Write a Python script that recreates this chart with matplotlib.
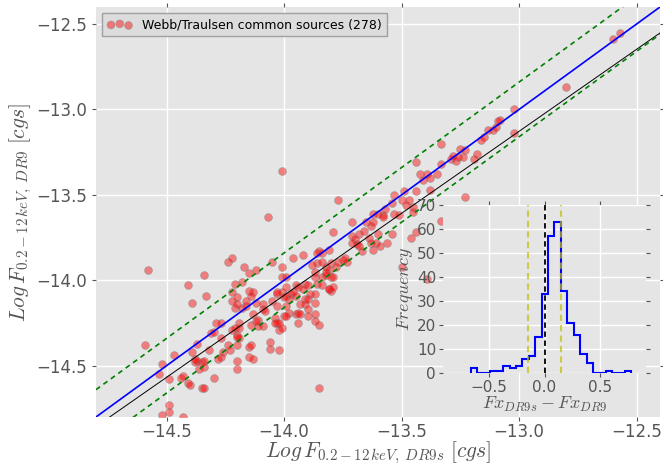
import numpy as np
import matplotlib
matplotlib.use('Agg')
import matplotlib.pyplot as plt

plt.rcParams['mathtext.fontset'] = 'cm'
plt.rcParams['font.family'] = 'DejaVu Sans'

# Log flux pairs (DR9s on x, DR9 on y)
fx_dr9s = [
    -14.59, -14.58, -14.52, -14.53, -14.49, -14.49, -14.49, -14.52, -14.43, -14.47,
    -14.44, -14.43, -14.41, -14.40, -14.39, -14.41, -14.39, -14.37, -14.38, -14.38,
    -14.37, -14.35, -14.34, -14.34, -14.36, -14.35, -14.34, -14.34, -14.33, -14.32,
    -14.31, -14.30, -14.30, -14.29, -14.27, -14.27, -14.26, -14.27, -14.28, -14.24,
    -14.22, -14.24, -14.23, -14.22, -14.22, -14.21, -14.20, -14.18, -14.16, -14.12,
    -14.13, -14.11, -14.14, -14.19, -14.21, -14.19, -14.20, -14.20, -14.19, -14.20,
    -14.15, -14.14, -14.20, -14.15, -14.13, -14.20, -14.21, -14.18, -14.17, -14.12,
    -14.15, -14.22, -14.20, -14.15, -14.13, -14.14, -14.16,
    -14.09, -14.09, -14.08, -14.05, -14.03, -14.01, -13.99, -13.98, -13.97, -13.95,
    -13.98, -14.00, -13.99, -14.04, -14.03, -14.04, -14.02, -14.02, -14.11, -14.09,
    -14.12, -13.93, -13.91, -13.91, -13.90, -13.87, -13.90, -13.95, -13.94, -13.93,
    -13.90, -13.87, -13.94, -13.85, -14.06, -14.06, -14.02, -13.85, -13.81, -13.80,
    -13.77, -14.07, -14.01, -13.62, -13.65, -13.63, -13.62, -13.71, -13.79, -13.68,
    -13.66, -13.71, -13.70, -13.71, -13.69, -13.64, -13.63, -13.61, -13.62, -13.67,
    -13.68, -13.85, -13.86, -13.84, -13.81, -13.92, -13.96, -14.05, -14.01, -13.86,
    -13.88, -13.84, -13.80, -13.78, -13.77, -13.75, -13.74, -13.73, -13.82, -13.81,
    -13.82, -13.87, -13.87, -13.84, -13.82, -13.80, -13.79, -14.01, -13.99, -13.99,
    -13.91, -13.90, -13.95, -13.94, -13.86, -13.84, -13.81, -13.79, -14.03, -13.92,
    -13.96, -13.89, -13.87, -14.00, -14.03, -13.99, -13.87, -14.01,
    -13.50, -13.47, -13.48, -13.45, -13.53, -13.51, -13.57, -13.58, -13.58, -13.60,
    -13.54, -13.56, -13.59, -13.46, -13.44, -13.50, -13.33, -13.39, -13.33, -13.25,
    -13.23, -13.29, -13.27, -13.26, -13.24, -13.28, -13.44, -13.33, -13.42, -13.39,
    -13.41, -13.38, -13.35, -13.38, -13.44, -13.49, -13.53, -13.54, -13.23, -12.57,
    -12.60, -12.80, -13.02, -13.02, -13.08, -13.09, -13.10, -13.11, -13.13, -13.15,
    -13.16, -13.18, -13.19, -13.45, -13.60,
]
fx_dr9 = [
    -14.38, -13.94, -14.49, -14.55, -14.58, -14.73, -14.77, -14.79, -14.80, -14.44,
    -14.57, -14.56, -14.60, -14.61, -14.13, -14.03, -14.42, -14.37, -14.48, -14.46,
    -14.47, -14.48, -14.47, -14.51, -14.52, -14.63, -14.63, -13.97, -14.09, -14.41,
    -14.31, -14.30, -14.57, -14.25, -14.25, -14.34, -14.42, -14.45, -14.46, -13.89,
    -13.87, -14.38, -14.41, -14.29, -14.12, -14.16, -14.14, -14.16, -14.15, -14.13,
    -14.20, -14.23, -14.26, -14.25, -14.28, -14.28, -14.32, -14.33, -14.34, -14.38,
    -14.39, -14.38, -14.47, -14.45, -14.46, -14.52, -14.02, -14.01, -13.92, -13.94,
    -13.96, -14.07, -14.10, -14.06, -14.07, -14.09, -14.12,
    -14.14, -14.17, -14.18, -14.12, -14.08, -14.07, -14.09, -14.11, -14.08, -14.09,
    -14.19, -14.21, -14.21, -14.22, -14.25, -14.25, -14.25, -14.29, -14.27, -14.27,
    -14.24, -14.14, -14.11, -14.14, -14.11, -14.13, -14.17, -14.20, -14.19, -14.20,
    -14.21, -14.20, -14.25, -14.26, -14.36, -14.40, -14.41, -14.63, -14.05, -14.06,
    -13.53, -13.63, -13.36, -13.61, -13.66, -13.68, -13.66, -13.66, -13.72, -13.73,
    -13.71, -13.74, -13.76, -13.78, -13.79, -13.75, -13.78, -13.78, -13.82, -13.83,
    -13.80, -13.83, -13.84, -13.84, -13.82, -13.85, -13.87, -13.89, -13.92, -13.90,
    -13.91, -13.89, -13.90, -13.92, -13.89, -13.88, -13.87, -13.89, -13.92, -13.94,
    -13.95, -13.95, -13.98, -13.98, -13.97, -13.98, -13.98, -13.98, -13.98, -14.04,
    -14.02, -14.03, -14.03, -14.04, -14.02, -14.03, -14.05, -14.04, -14.07, -14.05,
    -14.07, -14.08, -14.08, -14.10, -14.15, -14.15, -14.24, -14.28,
    -13.53, -13.53, -13.56, -13.57, -13.61, -13.62, -13.58, -13.62, -13.63, -13.73,
    -13.73, -13.78, -13.80, -13.75, -13.72, -13.92, -13.65, -13.99, -13.20, -13.23,
    -13.24, -13.29, -13.30, -13.28, -13.28, -13.27, -13.31, -13.32, -13.38, -13.38,
    -13.41, -13.40, -13.38, -13.47, -13.48, -13.48, -13.50, -13.55, -13.51, -12.55,
    -12.59, -12.87, -13.00, -13.14, -13.06, -13.07, -13.10, -13.12, -13.12, -13.16,
    -13.18, -13.26, -13.29, -13.60, -13.61,
]

# linear fit and +/- band
fit_slope = 0.96
fit_intercept = -0.648
band = 0.16

# histogram of Fx_DR9s - Fx_DR9 (25 bins)
diff_lo, diff_hi = -0.659, 0.779
hist_counts = [2, 0, 0, 1, 1, 3, 2, 3, 6, 7, 15, 33, 57, 63, 34, 21, 16, 8, 4,
               0, 0, 1, 0, 0, 1]
diff_mean = 0.0
diff_sigma = 0.144

grey = '#555555'
bg = '#E5E5E5'

fig = plt.figure(figsize=(6.63, 4.69), dpi=100)
ax = fig.add_axes([0.1448, 0.1109, 0.8507, 0.8742])
ax.set_facecolor(bg)
for s in ax.spines.values():
    s.set_visible(False)
ax.grid(True, color='white', lw=1.0)
ax.set_axisbelow(True)

ax.scatter(fx_dr9s, fx_dr9, s=32, facecolor='red', alpha=0.45, edgecolor='grey',
           linewidth=0.6, label='Webb/Traulsen common sources (278)', zorder=3)

xx = np.array([-14.8, -12.4])
ax.plot(xx, xx, color='blue', lw=1.2, zorder=4)
ax.plot(xx, fit_slope * xx + fit_intercept, color='black', lw=0.7, zorder=4)
ax.plot(xx, xx + band, 'g--', lw=1.2, dashes=(3, 2.5), zorder=4)
ax.plot(xx, xx - band, 'g--', lw=1.2, dashes=(3, 2.5), zorder=4)

ax.set_xlim(-14.8, -12.4)
ax.set_ylim(-14.8, -12.4)
ax.set_xticks([-14.5, -14.0, -13.5, -13.0, -12.5])
ax.set_yticks([-14.5, -14.0, -13.5, -13.0, -12.5])
ax.tick_params(direction='out', length=3, color=grey, labelcolor=grey,
               labelsize=12, top=True, right=True)
ax.tick_params(axis='x', pad=1)
ax.set_xlabel(r'$Log\,F_{0.2-12\,keV,\;DR9s}\;[cgs]$', fontsize=15.5, color=grey)
ax.xaxis.set_label_coords(0.5, -0.056)
ax.set_ylabel(r'$Log\,F_{0.2-12\,keV,\;DR9}\;[cgs]$', fontsize=15.5, color=grey)
ax.yaxis.set_label_coords(-0.11, 0.5)

leg = ax.legend(loc='upper left', scatterpoints=3, fontsize=9, fancybox=False,
                framealpha=1.0)
leg.get_frame().set_facecolor('#DCDCDC')
leg.get_frame().set_edgecolor('#A0A0A0')

# inset histogram
ins = fig.add_axes([0.6682, 0.2047, 0.3062, 0.3582])
ins.set_facecolor(bg)
for s in ins.spines.values():
    s.set_visible(False)
ins.grid(True, color='white', lw=1.0)
ins.set_axisbelow(True)
edges = np.linspace(diff_lo, diff_hi, len(hist_counts) + 1)
ins.hist(edges[:-1], bins=edges, weights=hist_counts, histtype='step',
         color='blue', lw=1.5)
ins.axvline(diff_mean, color='black', ls='--', lw=1.3, dashes=(3, 2))
ins.axvline(diff_mean - diff_sigma, color='y', alpha=0.7, lw=1.5, dashes=(3, 2))
ins.axvline(diff_mean + diff_sigma, color='y', alpha=0.7, lw=1.5, dashes=(3, 2))
ins.set_xlim(-0.91, 0.91)
ins.set_ylim(0, 70)
ins.set_xticks([-0.5, 0.0, 0.5])
ins.set_yticks(range(0, 71, 10))
ins.tick_params(direction='out', length=3, color=grey, labelcolor=grey,
                labelsize=11, top=True, right=True, pad=2)
ins.set_xlabel(r'$Fx_{DR9s}-Fx_{DR9}$', fontsize=13, color=grey, labelpad=0)
ins.set_ylabel(r'$Frequency$', fontsize=13, color=grey, labelpad=1)

fig.savefig('out.png', dpi=100)
